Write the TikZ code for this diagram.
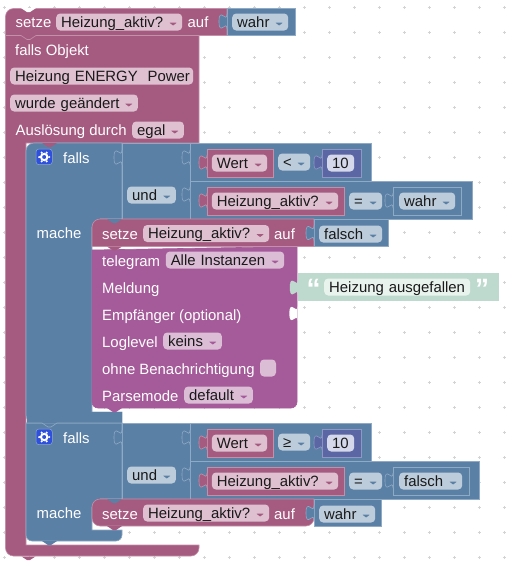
\documentclass[tikz,border=0pt]{standalone}
\usepackage{fontspec}
\setmainfont{Liberation Sans}
\usetikzlibrary{calc}
\definecolor{varblock}{HTML}{A55B80}
\definecolor{varedge}{HTML}{C48FA9}
\definecolor{varfield}{HTML}{DFC0D0}
\definecolor{logblock}{HTML}{5B80A5}
\definecolor{logedge}{HTML}{8FAAC4}
\definecolor{logfield}{HTML}{BDCCDB}
\definecolor{tgblock}{HTML}{A55B99}
\definecolor{tgfield}{HTML}{DBBDD6}
\definecolor{numblock}{HTML}{5B67A5}
\definecolor{numedge}{HTML}{8F98C4}
\definecolor{numfield}{HTML}{D5D8EA}
\definecolor{strblock}{HTML}{BEDACE}
\definecolor{strfield}{HTML}{E9F3EE}
\definecolor{gridplus}{HTML}{D4D4D4}
\definecolor{iconblue}{HTML}{2F4FDD}
\tikzset{
  txt/.style={font=\fontsize{14.9}{18}\selectfont,text=white,anchor=west,inner sep=0pt,text height=12pt,text depth=2pt},
  fieldbox/.style={font=\fontsize{14.9}{18}\selectfont,text=black!90,anchor=west,inner xsep=5pt,inner ysep=0pt,
    minimum height=17pt,text height=12pt,text depth=2pt,rounded corners=4pt,align=left},
  varbox/.style={draw=varedge,fill=varblock,line width=.6pt},
  logbox/.style={draw=logedge,fill=logblock,line width=.6pt},
  tgbox/.style={draw=tgblock,fill=tgblock,line width=.6pt},
  numbox/.style={draw=numedge,fill=numblock,line width=.6pt},
  strbox/.style={draw=strblock,fill=strblock,line width=.6pt},
}
\newcommand{\txtfield}[6]{\node[fieldbox,fill=#1,minimum width={(#4-#3)*1pt},text width={(#4-#3-10)*1pt}] (#2) at (#3,#5) {\mbox{#6}};}
\newcommand{\ddfield}[7]{\txtfield{#1}{#2}{#3}{#4}{#5}{#6}
  \fill[#7,rounded corners=.4pt] ($(#2.east)+(-13,.7)$) -- ++(7.4,0) -- ++(-3.7,2.8) -- cycle;}
\newcommand{\blocktab}[4]{\draw[#1,fill=#2] (#3,#4) .. controls (#3,#4+10) and (#3-8,#4-8) .. (#3-8,#4+7.5)
  .. controls (#3-8,#4+23) and (#3,#4+5) .. (#3,#4+15);}
\newcommand{\blocknotch}[3]{\fill[#1] (#2,#3) -- (#2+6,#3+4) -- (#2+9,#3+4) -- (#2+15,#3) -- cycle;}
\begin{document}
\begin{tikzpicture}[x=1pt,y=-1pt]
  \useasboundingbox (0,0) rectangle (523,566);
  \foreach \i in {0,...,20} \foreach \j in {0,...,22}
    \draw[gridplus,line width=.5pt] (4+25*\i-1.5,7.3+25*\j) -- ++(3,0) (4+25*\i,7.3+25*\j-1.5) -- ++(0,3);
  \draw[varbox] (227,8.5) [rounded corners=8pt] -- (5.5,8.5) -- (5.5,556) -- (199,556) [sharp corners]
    -- (199,545) -- (26,545) -- (26,143) -- (199,143) -- (199,35.5) -- (227,35.5) -- cycle;
  \blocknotch{white}{21}{8}
  \draw[varedge,line width=.6pt] (5.5,35.5) -- (21,35.5) -- (27,39.5) -- (30,39.5) -- (36,35.5) -- (199,35.5);
  \fill[varblock] (21.5,556.5) -- (27,560) -- (30,560) -- (35.5,556.5) -- cycle;
  \draw[logbox] (227,8.5) -- (295,8.5) -- (295,35.5) -- (227,35.5) -- cycle;
  \blocktab{logedge,line width=.6pt}{logblock}{227}{14}
  \node[txt] (setzeTop) at (15.5,22.5) {setze};
  \ddfield{varfield}{varTop}{56}{182}{22}{Heizung\_aktiv?}{varblock}
  \node[txt] (aufTop) at (187.5,22.5) {auf};
  \ddfield{logfield}{wahrTop}{232}{288}{22}{wahr}{logblock}
  \node[txt] (fallsObj) at (15,50) {falls Objekt};
  \txtfield{varfield}{objField}{10}{193}{76}{Heizung ENERGY\ \ Power}
  \ddfield{varfield}{evField}{10}{137.7}{103}{wurde geändert}{varblock}
  \node[txt] (ausl) at (15.5,130.5) {Auslösung durch};
  \ddfield{varfield}{egalField}{132}{183.7}{130}{egal}{varblock}
  \draw[logbox] (122,143) [rounded corners=8pt] -- (26,143) -- (26,423) [sharp corners] -- (122,423)
    -- (122,412) -- (92,412) -- (92,219) -- (122,219) -- cycle;
  \draw[logbox] (122,423) [sharp corners] -- (26,423) [rounded corners=6pt] -- (26,541) -- (122,541) [sharp corners]
    -- (122,530) -- (92,530) -- (92,499) -- (122,499) -- cycle;
  \fill[logblock] (27,412) rectangle (122,422.6);
  \fill[logblock] (88,215) rectangle (100,227);
  \fill[logblock] (88,495) rectangle (100,507);
  \blocknotch{varblock}{42}{143}
  \draw[logedge,line width=.6pt] (26,423) -- (42,423) -- (48,427) -- (51,427) -- (57,423) -- (122,423);
  \fill[logblock] (42,541) -- (48,545) -- (51,545) -- (57,541) -- cycle;
  \foreach \yo/\lvl/\cmpsym/\cmpend/\cmpval/\andend/\boolend/\fe/\tag in
      {0/wahr/</371/361/472/461/455/A,280/falsch/≥/371/361/479/469/462/B}{
    \draw[logbox] (122,143+\yo) rectangle (190,219+\yo);
    \blocktab{logedge,line width=.6pt}{logblock}{122}{150+\yo}
    \draw[logbox] (190,143+\yo) rectangle (\cmpend,181+\yo);
    \draw[logbox] (190,181+\yo) rectangle (\andend,219+\yo);
    \blocktab{logedge,line width=.6pt}{logblock}{190}{150+\yo}
    \blocktab{logedge,line width=.6pt}{logblock}{190}{187+\yo}
    \draw[varbox] (207,149+\yo) rectangle (273,177+\yo);
    \blocktab{varedge,line width=.6pt}{varblock}{207}{155+\yo}
    \draw[varbox] (207,187+\yo) rectangle (344,215+\yo);
    \blocktab{varedge,line width=.6pt}{varblock}{207}{193+\yo}
    \draw[numbox] (322,149+\yo) rectangle (\cmpval,177+\yo);
    \blocktab{numedge,line width=.6pt}{numblock}{322}{155+\yo}
    \draw[logbox] (393,187+\yo) rectangle (\boolend,215+\yo);
    \blocktab{logedge,line width=.6pt}{logblock}{393}{193+\yo}
    \fill[iconblue,rounded corners=3pt] (36,149+\yo) rectangle (52.3,164.7+\yo);
    \draw[logedge,line width=.5pt,rounded corners=3pt] (36,149+\yo) rectangle (52.3,164.7+\yo);
    \draw[white,line width=2pt] (44.2,157+\yo) circle (3.2pt);
    \foreach \a in {0,60,...,300} \fill[white] ($(44.2,157+\yo)+(\a:5)$) circle (1.2pt);
    \node[txt] (falls\tag) at (63,158+\yo) {falls};
    \node[txt] (mache\tag) at (36.5,233.5+\yo) {mache};
    \ddfield{logfield}{und\tag}{127}{175.7}{195+\yo}{und}{logblock}
    \ddfield{varfield}{wert\tag}{211.7}{267}{163+\yo}{Wert}{varblock}
    \ddfield{logfield}{cmp\tag}{278}{310}{162+\yo}{\cmpsym}{logblock}
    \txtfield{numfield}{num\tag}{327}{354}{163+\yo}{10}
    \ddfield{varfield}{varCmp\tag}{211.7}{338}{201+\yo}{Heizung\_aktiv?}{varblock}
    \ddfield{logfield}{eq\tag}{349}{382}{201+\yo}{=}{logblock}
    \ddfield{logfield}{bool\tag}{399}{\fe}{201+\yo}{\lvl}{logblock}
  }
  \draw[tgbox] (92,250) [rounded corners=6pt] -- (92,408) -- (297,408) [sharp corners] -- (297,246.5) -- cycle;
  \fill[white] (297.4,306) .. controls (297.4,316) and (289.4,298) .. (289.4,313.5) .. controls (289.4,329) and (297.4,311) .. (297.4,321) -- cycle;
  \fill[tgblock] (107,408) -- (113,412) -- (116,412) -- (122,408) -- cycle;
  \draw[varbox] (314,219) [rounded corners=8pt] -- (92,219) [sharp corners] -- (92,246.5) -- (314,246.5) -- cycle;
  \blocknotch{logblock}{107}{219}
  \fill[varblock] (107,246.5) -- (113,250.5) -- (116,250.5) -- (122,246.5) -- cycle;
  \draw[logbox] (314,219) rectangle (388,246.5);
  \blocktab{logedge,line width=.6pt}{logblock}{314}{225.5}
  \node[txt] (setzeA) at (102,234.5) {setze};
  \ddfield{varfield}{varA}{143}{269}{233.5}{Heizung\_aktiv?}{varblock}
  \node[txt] (aufA) at (274,234.5) {auf};
  \ddfield{logfield}{falschA}{319}{382}{234}{falsch}{logblock}
  \node[txt] (tgLabel) at (102,261) {telegram};
  \ddfield{tgfield}{instField}{165.6}{284}{260}{Alle Instanzen}{tgblock}
  \node[txt] (msgLabel) at (102,288) {Meldung};
  \node[txt] (recvLabel) at (102,315) {Empfänger (optional)};
  \node[txt] (logLabel) at (102,342) {Loglevel};
  \ddfield{tgfield}{logField}{163}{221.7}{341}{keins}{tgblock}
  \node[txt] (silentLabel) at (102,369) {ohne Benachrichtigung};
  \fill[tgfield,rounded corners=4pt] (260,359.5) rectangle (276,376.5);
  \node[txt] (parseLabel) at (102,396) {Parsemode};
  \ddfield{tgfield}{parseField}{184}{252.7}{395}{default}{tgblock}
  \draw[strbox] (298,273.5) rectangle (498,300.5);
  \blocktab{strblock}{strblock}{298}{280}
  \node[txt,font=\fontsize{28}{28}\bfseries\selectfont] (quoteL) at (306.5,293) {“};
  \txtfield{strfield}{strField}{324}{470}{287}{Heizung ausgefallen}
  \node[txt,font=\fontsize{28}{28}\bfseries\selectfont] (quoteR) at (475,293) {”};
  \draw[varbox] (314,499) -- (100,499) [rounded corners=8pt] -- (92,499) -- (92,526) -- (314,526) [sharp corners] -- cycle;
  \blocknotch{logblock}{107}{499}
  \fill[varblock] (107,526) -- (113,530) -- (116,530) -- (122,526) -- cycle;
  \draw[logbox] (314,499) rectangle (381,526);
  \blocktab{logedge,line width=.6pt}{logblock}{314}{505.5}
  \node[txt] (setzeB) at (102,514.5) {setze};
  \ddfield{varfield}{varB}{143}{269}{513}{Heizung\_aktiv?}{varblock}
  \node[txt] (aufB) at (274,514.5) {auf};
  \ddfield{logfield}{wahrB}{319}{375}{514}{wahr}{logblock}
\end{tikzpicture}
\end{document}
